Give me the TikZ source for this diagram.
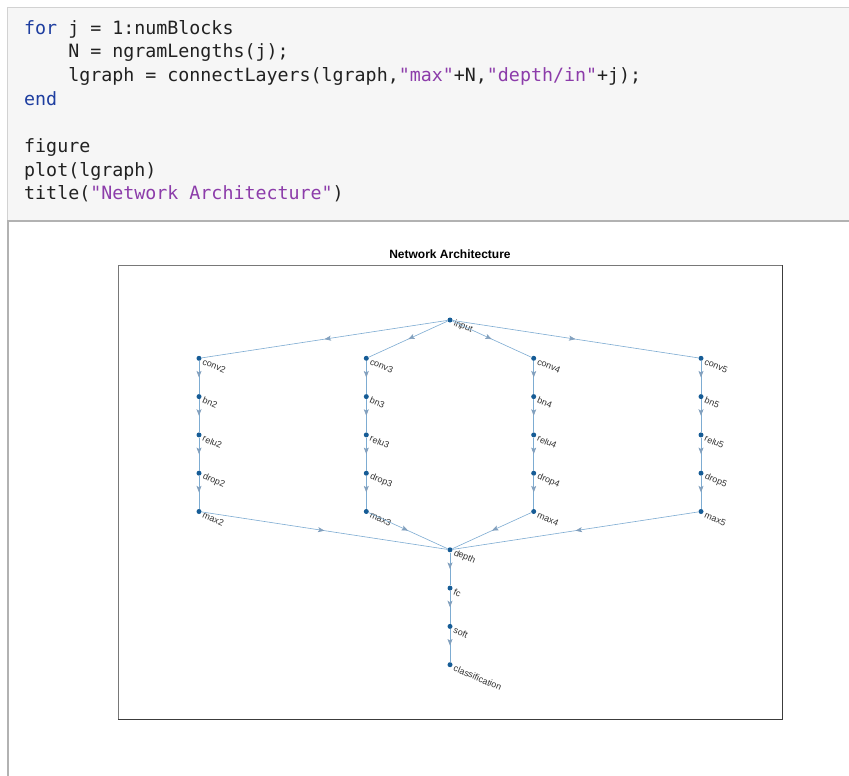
\documentclass[tikz,border=0pt]{standalone}
\usepackage{fontspec}
\setmainfont{Liberation Sans}
\setmonofont{DejaVu Sans Mono}
\usetikzlibrary{arrows.meta,decorations.markings}

\definecolor{codebg}{RGB}{246,246,246}
\definecolor{codeframe}{RGB}{210,210,210}
\definecolor{rulegray}{RGB}{178,178,178}
\definecolor{codetext}{RGB}{33,33,33}
\definecolor{kw}{RGB}{30,62,160}
\definecolor{str}{RGB}{140,60,170}
\definecolor{axisdark}{RGB}{60,60,60}
\definecolor{axislight}{RGB}{120,120,120}
\definecolor{nodeblue}{RGB}{22,92,150}
\definecolor{edgeblue}{RGB}{125,172,210}
\definecolor{arrowgray}{RGB}{130,160,190}
\definecolor{labelgray}{RGB}{50,50,50}

\tikzset{
  codeline/.style={anchor=base west, inner sep=0, text=codetext,
    font=\ttfamily\fontsize{18.3}{20}\selectfont},
  dot/.style={circle, fill=nodeblue, inner sep=0, minimum size=5pt},
  lbl/.style={anchor=west, inner sep=0, rotate=-23, text=labelgray,
    font=\fontsize{9}{10}\selectfont},
  edge/.style={draw=edgeblue, line width=0.6pt, postaction={decorate},
    decoration={markings, mark=at position 0.5 with
      {\arrow[arrowgray]{Stealth[length=6.5pt,width=5pt,inset=1.5pt]}}}},
}

\begin{document}
\begin{tikzpicture}[x=1pt,y=-1pt]
\useasboundingbox (0,0) rectangle (849,776);
\fill[white] (0,0) rectangle (849,776);

% code cell
\fill[codebg] (7.5,7.5) rectangle (849,221);
\draw[codeframe, line width=1pt] (849,7.5) -- (7.5,7.5) -- (7.5,221);
\draw[rulegray, line width=2pt] (7,221) -- (849,221);
\draw[rulegray, line width=2pt] (8,221) -- (8,776);

\node[codeline] (c1) at (24,34.5) {{\color{kw}for} j = 1:numBlocks};
\node[codeline] (c2) at (68.1,58) {N = ngramLengths(j);};
\node[codeline] (c3) at (68.1,81.5) {lgraph = connectLayers(lgraph,{\color{str}"max"}+N,{\color{str}"depth/in"}+j);};
\node[codeline] (c4) at (24,105) {{\color{kw}end}};
\node[codeline] (c5) at (24,152.5) {figure};
\node[codeline] (c6) at (24,176) {plot(lgraph)};
\node[codeline] (c7) at (24,199.5) {title({\color{str}"Network Architecture"})};

% figure output
\node[font=\bfseries\fontsize{12}{13}\selectfont, inner sep=0] (title) at (450,254) {Network Architecture};
\draw[axislight, line width=0.9pt] (118,719) -- (118,265) -- (782,265);
\draw[axisdark, line width=0.9pt] (782,265) -- (782,719) -- (118,719);

% layered graph
\node[dot] (input) at (450,320) {};
\node[lbl] (input-l) at ([shift={(4,3)}]input.center) {input};
\foreach \n/\x in {2/199,3/366.3,4/533.7,5/701}{
  \node[dot] (conv\n) at (\x,358.3) {};
  \node[dot] (bn\n)   at (\x,396.6) {};
  \node[dot] (relu\n) at (\x,434.9) {};
  \node[dot] (drop\n) at (\x,473.2) {};
  \node[dot] (max\n)  at (\x,511.5) {};
  \node[lbl] (conv\n-l) at ([shift={(4,3)}]conv\n.center) {conv\n};
  \node[lbl] (bn\n-l)   at ([shift={(4,3)}]bn\n.center) {bn\n};
  \node[lbl] (relu\n-l) at ([shift={(4,3)}]relu\n.center) {relu\n};
  \node[lbl] (drop\n-l) at ([shift={(4,3)}]drop\n.center) {drop\n};
  \node[lbl] (max\n-l)  at ([shift={(4,3)}]max\n.center) {max\n};
}
\node[dot] (depth) at (450,549.8) {};
\node[dot] (fc)    at (450,588.1) {};
\node[dot] (soft)  at (450,626.4) {};
\node[dot] (class) at (450,664.7) {};
\node[lbl] (depth-l) at ([shift={(4,3)}]depth.center) {depth};
\node[lbl] (fc-l)    at ([shift={(4,3)}]fc.center) {fc};
\node[lbl] (soft-l)  at ([shift={(4,3)}]soft.center) {soft};
\node[lbl] (class-l) at ([shift={(4,3)}]class.center) {classification};

\foreach \n in {2,3,4,5}{
  \draw[edge] (input) -- (conv\n);
  \draw[edge] (conv\n) -- (bn\n);
  \draw[edge] (bn\n) -- (relu\n);
  \draw[edge] (relu\n) -- (drop\n);
  \draw[edge] (drop\n) -- (max\n);
  \draw[edge] (max\n) -- (depth);
}
\draw[edge] (depth) -- (fc);
\draw[edge] (fc) -- (soft);
\draw[edge] (soft) -- (class);
\end{tikzpicture}
\end{document}
